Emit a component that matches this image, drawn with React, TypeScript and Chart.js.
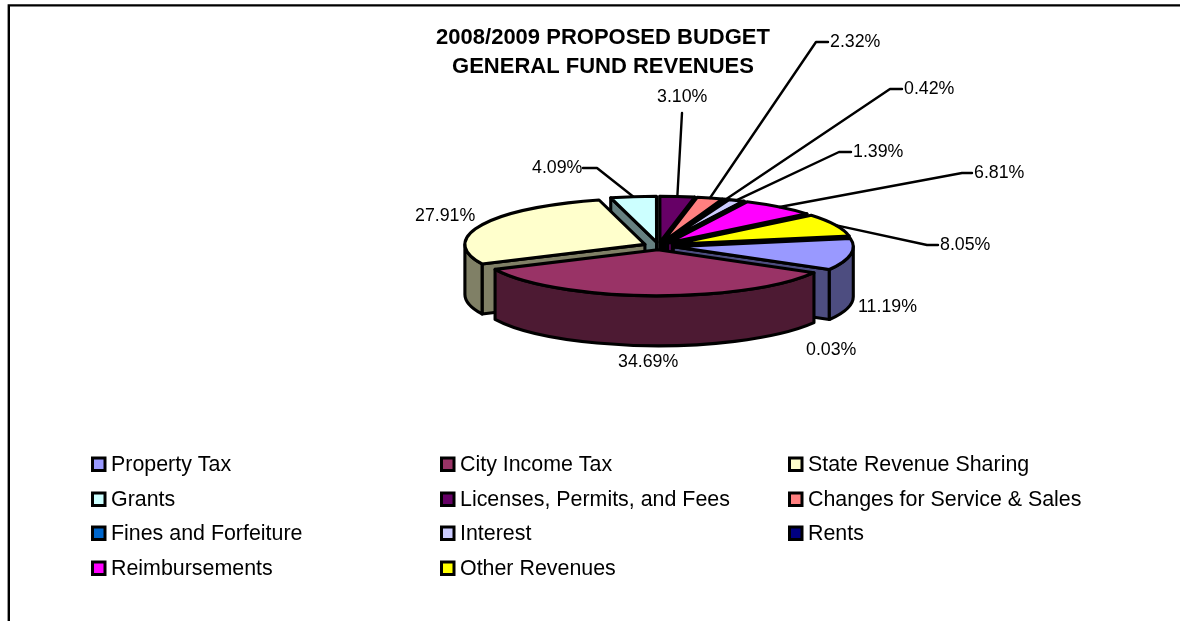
import { useEffect, useRef } from "react";
import { Chart, ArcElement, DoughnutController } from "chart.js";

Chart.register(ArcElement, DoughnutController);

// General fund revenue shares, percent of total
const categories = [
  "Property Tax",
  "City Income Tax",
  "State Revenue Sharing",
  "Grants",
  "Licenses, Permits, and Fees",
  "Changes for Service & Sales",
  "Fines and Forfeiture",
  "Interest",
  "Rents",
  "Reimbursements",
  "Other Revenues",
];
const shares = [11.19, 34.69, 27.91, 4.09, 3.1, 2.32, 0.42, 1.39, 0.03, 6.81, 8.05];
const faceColors = [
  "#9999FF", "#993366", "#FFFFCC", "#CCFFFF", "#660066", "#FF8080",
  "#0066CC", "#CCCCFF", "#000080", "#FF00FF", "#FFFF00",
];
const titleLines = ["2008/2009 PROPOSED BUDGET", "GENERAL FUND REVENUES"];

// Label placement: left edge and vertical centre of each percentage,
// plus the elbow of its leader line where it has one.
const labelSpots = [
  { x: 858, y: 307 },
  { x: 618, y: 362 },
  { x: 415, y: 216 },
  { x: 532, y: 168, elbow: [597, 168], tail: [583, 168] },
  { x: 657, y: 97, elbow: [682, 113] },
  { x: 830, y: 42, elbow: [816, 42], tail: [828, 42] },
  { x: 904, y: 89, elbow: [890, 89], tail: [902, 89] },
  { x: 853, y: 152, elbow: [839, 152], tail: [851, 152] },
  { x: 806, y: 350 },
  { x: 974, y: 173, elbow: [962, 173], tail: [972, 173] },
  { x: 940, y: 245, elbow: [927, 245], tail: [938, 245] },
];

const legendColumns = [
  { box: 91, text: 111 },
  { box: 440, text: 460 },
  { box: 788, text: 808 },
];
const legendRows = [465, 500, 534, 569];

const FONT = '"Liberation Sans", Arial, sans-serif';
const TILT = 0.255; // vertical squash of the pie's disc
const DEPTH = 50; // height of the extruded wall
const EDGE = 3.1;

function shade(hex: string) {
  const n = parseInt(hex.slice(1), 16);
  const half = (v: number) => Math.round(v / 2);
  return `rgb(${half((n >> 16) & 255)},${half((n >> 8) & 255)},${half(n & 255)})`;
}

function tracePath(ctx: CanvasRenderingContext2D, draw: () => void, fill: string) {
  ctx.beginPath();
  draw();
  ctx.closePath();
  ctx.fillStyle = fill;
  ctx.fill();
  ctx.stroke();
}

// Projects each arc laid out by the doughnut controller onto a tilted disc.
const tiltedPie = {
  id: "tiltedPie",
  beforeDatasetDraw(chart: any) {
    const { ctx } = chart;
    const arcs = chart.getDatasetMeta(0).data.map((arc: any, index: number) => {
      const { x, y, startAngle, endAngle, outerRadius, options } = arc;
      const mid = (startAngle + endAngle) / 2;
      return {
        index,
        a0: startAngle,
        a1: endAngle,
        mid,
        r: outerRadius,
        cx: x + Math.cos(mid) * options.offset,
        cy: y + Math.sin(mid) * options.offset * TILT,
        face: options.backgroundColor,
      };
    });

    ctx.save();
    ctx.lineJoin = "round";
    ctx.lineCap = "round";
    ctx.strokeStyle = "#000";
    ctx.lineWidth = EDGE;

    const backToFront = [...arcs].sort((p, q) => Math.sin(p.mid) - Math.sin(q.mid));
    for (const s of backToFront) {
      const ry = s.r * TILT;
      const wall = shade(s.face);
      const radialWall = (a: number) =>
        tracePath(ctx, () => {
          const px = s.cx + s.r * Math.cos(a);
          const py = s.cy + ry * Math.sin(a);
          ctx.moveTo(s.cx, s.cy);
          ctx.lineTo(px, py);
          ctx.lineTo(px, py + DEPTH);
          ctx.lineTo(s.cx, s.cy + DEPTH);
        }, wall);

      // Only the radial walls turned toward the viewer are painted
      if (Math.cos(s.a0) < 0) radialWall(s.a0);
      if (Math.cos(s.a1) > 0) radialWall(s.a1);

      // Curved rim, limited to the near half of the disc
      for (let k = -1; k <= 2; k++) {
        const from = Math.max(s.a0, 2 * Math.PI * k);
        const to = Math.min(s.a1, 2 * Math.PI * k + Math.PI);
        if (to <= from) continue;
        tracePath(ctx, () => {
          ctx.ellipse(s.cx, s.cy, s.r, ry, 0, from, to);
          ctx.ellipse(s.cx, s.cy + DEPTH, s.r, ry, 0, to, from, true);
        }, wall);
      }

      tracePath(ctx, () => {
        ctx.moveTo(s.cx, s.cy);
        ctx.ellipse(s.cx, s.cy, s.r, ry, 0, s.a0, s.a1);
      }, s.face);
    }

    // Leader lines run from the rim of a slice to its percentage
    ctx.lineWidth = 2.4;
    for (const s of arcs) {
      const spot = labelSpots[s.index];
      if (!spot.elbow) continue;
      ctx.beginPath();
      ctx.moveTo(s.cx + s.r * Math.cos(s.mid), s.cy + s.r * TILT * Math.sin(s.mid));
      ctx.lineTo(spot.elbow[0], spot.elbow[1]);
      if (spot.tail) ctx.lineTo(spot.tail[0], spot.tail[1]);
      ctx.stroke();
    }

    ctx.fillStyle = "#000";
    ctx.textBaseline = "middle";
    ctx.textAlign = "left";
    ctx.font = `17.8px ${FONT}`;
    shares.forEach((v, i) => {
      ctx.fillText(`${v.toFixed(2)}%`, labelSpots[i].x, labelSpots[i].y);
    });
    ctx.restore();
    return false;
  },
  afterDraw(chart: any) {
    const { ctx, width, height } = chart;
    ctx.save();

    // Open frame: top and left rules only
    ctx.strokeStyle = "#000";
    ctx.lineWidth = 2.4;
    ctx.beginPath();
    ctx.moveTo(width, 5.4);
    ctx.lineTo(8.8, 5.4);
    ctx.lineTo(8.8, height);
    ctx.stroke();

    ctx.fillStyle = "#000";
    ctx.textBaseline = "alphabetic";
    ctx.textAlign = "center";
    ctx.font = `bold 22px ${FONT}`;
    ctx.fillText(titleLines[0], 603, 44);
    ctx.fillText(titleLines[1], 603, 73);

    ctx.textAlign = "left";
    ctx.textBaseline = "middle";
    ctx.font = `21.4px ${FONT}`;
    ctx.lineWidth = 3;
    categories.forEach((name, i) => {
      const col = legendColumns[i % legendColumns.length];
      const row = legendRows[Math.floor(i / legendColumns.length)];
      ctx.fillStyle = faceColors[i];
      ctx.fillRect(col.box + 1.5, row - 7, 12.5, 12.5);
      ctx.strokeRect(col.box + 1.5, row - 7, 12.5, 12.5);
      ctx.fillStyle = "#000";
      ctx.fillText(name, col.text, row);
    });
    ctx.restore();
  },
};

export default function App() {
  const canvasRef = useRef<HTMLCanvasElement | null>(null);

  useEffect(() => {
    const chart = new Chart(canvasRef.current!, {
      type: "doughnut",
      data: {
        labels: categories,
        datasets: [
          {
            data: shares,
            backgroundColor: faceColors,
            borderWidth: 0,
            offset: 15,
          },
        ],
      },
      options: {
        responsive: false,
        animation: false,
        devicePixelRatio: 1,
        cutout: 0,
        radius: 180,
        rotation: 79.6,
        layout: { padding: { left: 137, bottom: 129 } },
        plugins: { legend: { display: false }, title: { display: false }, tooltip: { enabled: false } },
      },
      plugins: [tiltedPie],
    } as any);
    return () => chart.destroy();
  }, []);

  return (
    <canvas
      ref={canvasRef}
      width={1180}
      height={621}
      style={{ position: "absolute", left: 0, top: 0, display: "block", width: 1180, height: 621 }}
    />
  );
}
